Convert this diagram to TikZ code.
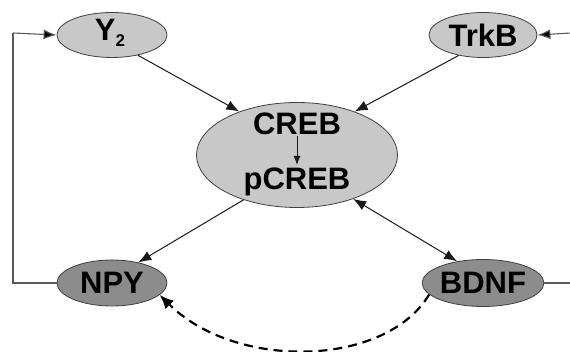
\documentclass[tikz,border=0pt]{standalone}
\usepackage{fontspec}
\setmainfont{Liberation Sans}
\usetikzlibrary{arrows.meta,shapes.geometric}
\definecolor{lightfill}{RGB}{200,200,200}
\definecolor{darkfill}{RGB}{140,140,140}
\definecolor{loopline}{RGB}{90,90,90}
\begin{document}
\begin{tikzpicture}[x=1pt,y=-1pt,
  lbl/.style={font=\fontsize{31}{31}\selectfont\bfseries},
  ell/.style={ellipse,draw=black!75,line width=0.8pt,inner sep=0pt,lbl},
  light/.style={ell,fill=lightfill},
  dark/.style={ell,fill=darkfill},
  tip/.style={-{Latex[length=13pt,width=10pt]}},
  arr/.style={draw=black!90,line width=1pt,tip},
  loopl/.style={draw=loopline,line width=1.1pt}]
\useasboundingbox (0,0) rectangle (570,352);
\node[light,minimum width=110pt,minimum height=45pt] (y2) at (112,35) {};
\node[lbl] at (110,33) {Y\raisebox{-6pt}{\fontsize{17}{17}\selectfont 2}};
\node[light,minimum width=108pt,minimum height=45pt] (trkb) at (483,35) {TrkB};
\node[light,minimum width=201pt,minimum height=105pt] (creb) at (297,155) {};
\node[lbl] (t1) at (297,124) {CREB};
\node[lbl] (t2) at (297,182) {pCREB};
\node[dark,minimum width=110pt,minimum height=46pt] (npy) at (112,283) {NPY};
\node[dark,minimum width=110pt,minimum height=47pt] (bdnf) at (483,283) {BDNF};
\coordinate (lb) at (13,283);
\coordinate (lt) at (13,33);
\coordinate (rt) at (571,33);
\coordinate (rb) at (571,283);
\draw[loopl] (npy.west) -- (lb) -- (lt);
\draw[loopl,-{Latex[length=13pt,width=10pt,fill=black]}] (lt) -- (y2.west);
\draw[loopl,-{Latex[length=13pt,width=10pt,fill=black]}] (rt) -- (trkb.east);
\draw[loopl] (bdnf.east) -- (rb);
\draw[arr] (y2.-38) -- (creb.143);
\draw[arr] (trkb.-140) -- (creb.37);
\draw[arr] (creb.-140) -- (npy.38);
\draw[arr,{Latex[length=13pt,width=10pt]}-{Latex[length=13pt,width=10pt]}] (creb.-38) -- (bdnf.140);
\draw[draw=black!90,line width=1pt,-{Latex[length=9pt,width=7pt]}] (297,136) -- (297,165);
\draw[black,line width=2.2pt,dash pattern=on 9pt off 6pt,-{Latex[length=14pt,width=12pt]}] (bdnf.192) .. controls (385,368) and (235,370) .. (npy.-14);
\end{tikzpicture}
\end{document}
